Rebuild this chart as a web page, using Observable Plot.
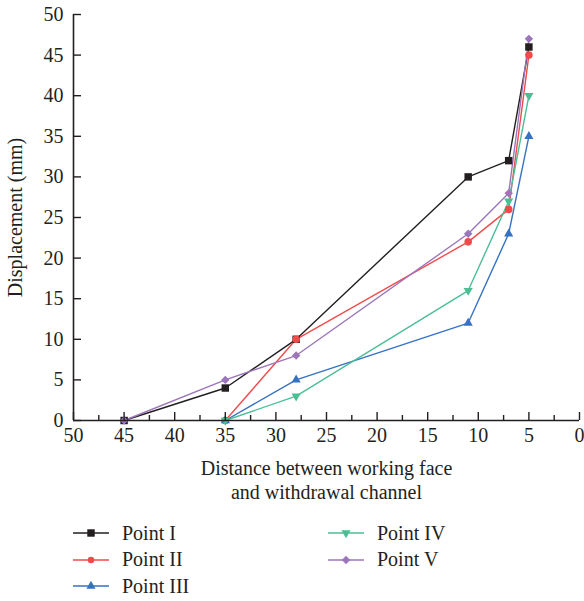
<!DOCTYPE html>
<html><head><meta charset="utf-8">
<script src="https://cdn.jsdelivr.net/npm/d3@7"></script>
<script src="https://cdn.jsdelivr.net/npm/@observablehq/plot@0.6"></script>
<style>
body{margin:0;background:#fff;font-family:"Liberation Serif","DejaVu Serif",serif;}
#wrap{position:relative;width:584px;height:601px;overflow:hidden;}
#legend{position:absolute;left:73px;top:520px;display:grid;grid-template-columns:255px 200px;grid-auto-flow:column;grid-template-rows:repeat(3,26.5px);font-size:20px;color:#231f20;}
.item{display:flex;align-items:center;}
.item svg{margin-right:13px;}
</style>
</head><body>
<div id="wrap"><div id="chart"></div><div id="legend"></div></div>
<script>
const seriesNames = ["Point I","Point II","Point III","Point IV","Point V"];
const seriesColors = ["#231f20","#f04b4b","#3672c2","#4bbf94","#9c76ba"];
const seriesSymbols = ["square","circle","triangle","triangle","diamond2"];
const seriesRotate = [0,0,0,180,0];
const seriesR = [4.2,3.8,3.4,3.4,3.8];

const distI = [45,35,28,11,7,5];   const dispI = [0,4,10,30,32,46];
const distII = [35,28,11,7,5];     const dispII = [0,10,22,26,45];
const distIII = [35,28,11,7,5];    const dispIII = [0,5,12,23,35];
const distIV = [35,28,11,7,5];     const dispIV = [0,3,16,27,40];
const distV = [45,35,28,11,7,5];   const dispV = [0,5,8,23,28,47];

const xMajor = [50,45,40,35,30,25,20,15,10,5,0];
const xMinor = [47.5,42.5,37.5,32.5,27.5,22.5,17.5,12.5,7.5,2.5];
const yMajor = [0,5,10,15,20,25,30,35,40,45,50];
const xTitle = "Distance between working face\nand withdrawal channel";
const yTitle = "Displacement (mm)";

const dists = [distI,distII,distIII,distIV,distV];
const disps = [dispI,dispII,dispIII,dispIV,dispV];
const series = seriesNames.map((name,i)=>dists[i].map((d,j)=>({name, dist:d, disp:disps[i][j]})));

const axisColor = "#231f20";
const marks = [];
series.forEach((s,i)=>{
  marks.push(Plot.line(s,{x:"dist",y:"disp",stroke:seriesColors[i],strokeWidth:1.4}));
});
series.forEach((s,i)=>{
  marks.push(Plot.dot(s,{x:"dist",y:"disp",symbol:()=>seriesSymbols[i],fill:seriesColors[i],stroke:"none",r:seriesR[i],rotate:seriesRotate[i]}));
});

const chart = Plot.plot({
  width:584, height:505,
  marginLeft:73, marginRight:5, marginTop:14, marginBottom:85,
  style:{fontFamily:'"Liberation Serif","DejaVu Serif",serif', fontSize:"20px", color:axisColor, background:"#fff"},
  x:{domain:[50,0]},
  y:{domain:[0,50]},
  marks:[
    ...marks,
    Plot.axisX({ticks:xMajor, tickSize:-8, tickFormat:()=>"", strokeWidth:1.4, label:null}),
    Plot.axisX({ticks:xMinor, tickSize:-5, tickFormat:()=>"", strokeWidth:1.4, label:null}),
    Plot.axisX({ticks:xMajor, tickSize:0, tickPadding:7, fontSize:20, label:null}),
    Plot.axisY({ticks:yMajor, tickSize:-8, tickFormat:()=>"", strokeWidth:1.4, label:null}),
    Plot.axisY({ticks:yMajor, tickSize:0, tickPadding:10, fontSize:20, label:yTitle, labelAnchor:"center", labelOffset:66, labelArrow:"none"}),
    Plot.text([xTitle],{frameAnchor:"bottom", lineAnchor:"top", dy:37, lineHeight:1.2, fontSize:20, fill:axisColor}),
    Plot.ruleY([0],{stroke:axisColor,strokeWidth:1.6}),
    Plot.ruleX([50],{stroke:axisColor,strokeWidth:1.6})
  ]
});
document.getElementById("chart").appendChild(chart);

// legend
const legend = d3.select("#legend");
const symGen = (i)=>{
  const sym = {square:d3.symbolSquare,circle:d3.symbolCircle,triangle:d3.symbolTriangle,diamond2:d3.symbolDiamond2}[seriesSymbols[i]];
  const r = seriesSymbols[i]==="circle" ? seriesR[i]*0.85 : seriesR[i];
  return d3.symbol(sym, Math.PI*r*r)();
};
seriesNames.forEach((name,i)=>{
  const it = legend.append("div").attr("class","item");
  const svg = it.append("svg").attr("width",36).attr("height",14);
  svg.append("line").attr("x1",0).attr("x2",36).attr("y1",7).attr("y2",7).attr("stroke",seriesColors[i]).attr("stroke-width",1.4);
  svg.append("path").attr("d",symGen(i)).attr("fill",seriesColors[i]).attr("transform",`translate(18,7) rotate(${seriesRotate[i]})`);
  it.append("span").text(name);
});
</script>
</body></html>
